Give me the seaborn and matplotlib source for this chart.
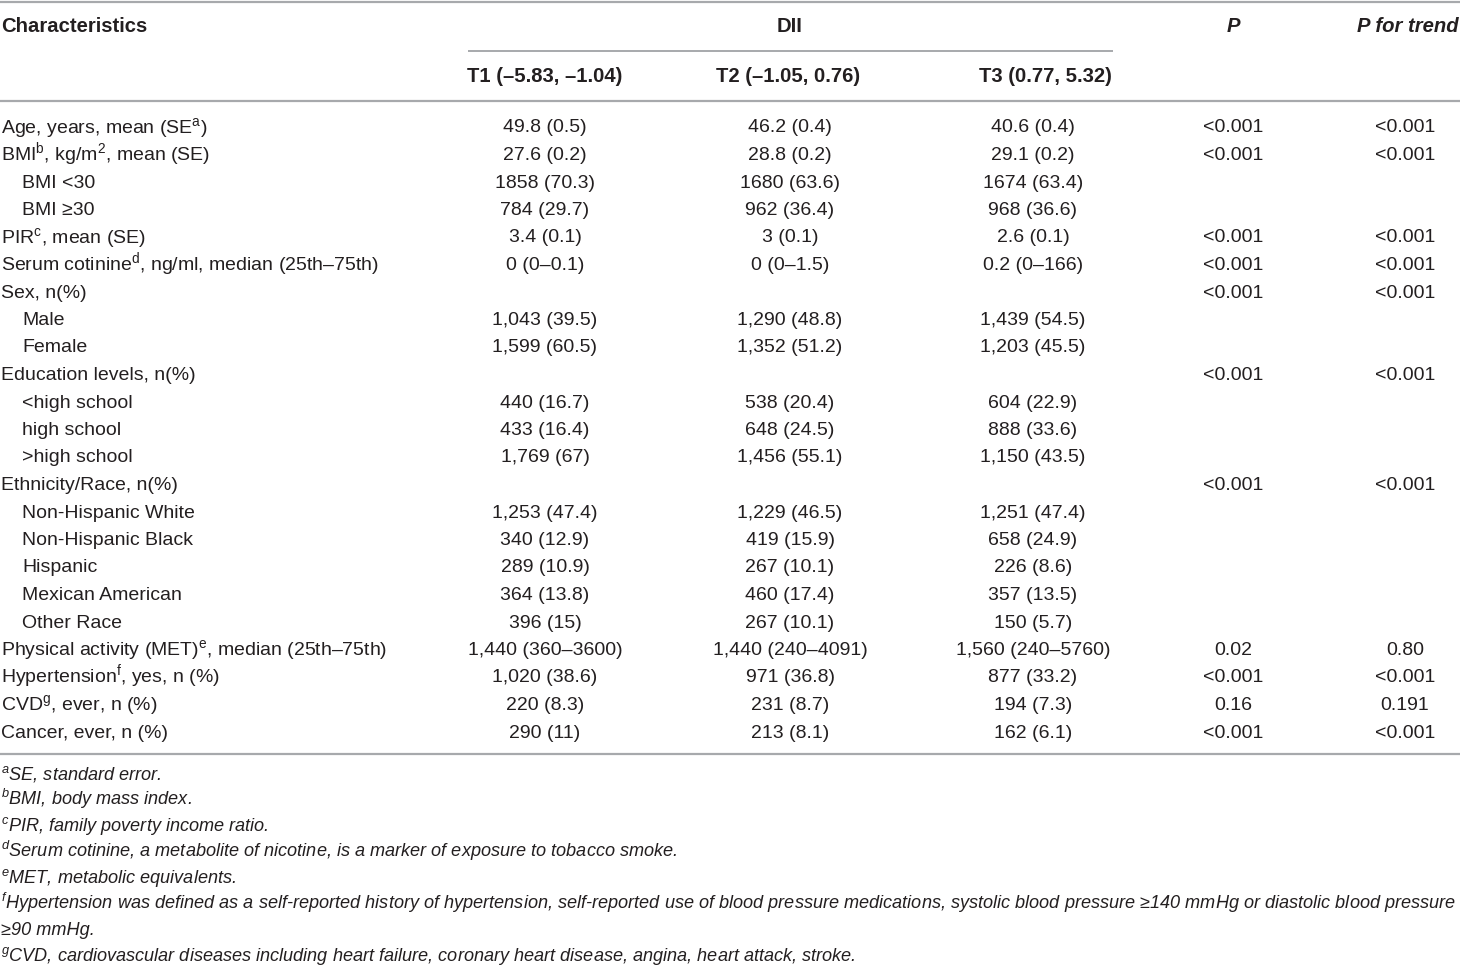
import matplotlib
matplotlib.use("Agg")
import matplotlib.pyplot as plt
import seaborn as sns

sns.set_style("white")
plt.rcParams['font.family'] = ['Liberation Sans', 'DejaVu Sans']
plt.rcParams['mathtext.fontset'] = 'custom'
plt.rcParams['mathtext.rm'] = 'Liberation Sans'
plt.rcParams['mathtext.it'] = 'Liberation Sans:italic'
plt.rcParams['mathtext.bf'] = 'Liberation Sans:bold'

# Table content
col_headers = ["T1 (\u20135.83, \u20131.04)", "T2 (\u20131.05, 0.76)", "T3 (0.77, 5.32)"]

labels = [
    "Age, years, mean (SE$^{\\mathrm{a}}$)",
    "BMI$^{\\mathrm{b}}$, kg/m$^{\\mathrm{2}}$, mean (SE)",
    "BMI <30",
    "BMI \u226530",
    "PIR$^{\\mathrm{c}}$, mean (SE)",
    "Serum cotinine$^{\\mathrm{d}}$, ng/ml, median (25th\u201375th)",
    "Sex, n(%)",
    "Male",
    "Female",
    "Education levels, n(%)",
    "<high school",
    "high school",
    ">high school",
    "Ethnicity/Race, n(%)",
    "Non-Hispanic White",
    "Non-Hispanic Black",
    "Hispanic",
    "Mexican American",
    "Other Race",
    "Physical activity (MET)$^{\\mathrm{e}}$, median (25th\u201375th)",
    "Hypertension$^{\\mathrm{f}}$, yes, n (%)",
    "CVD$^{\\mathrm{g}}$, ever, n (%)",
    "Cancer, ever, n (%)",
]
indented = [0, 0, 1, 1, 0, 0, 0, 1, 1, 0, 1, 1, 1, 0, 1, 1, 1, 1, 1, 0, 0, 0, 0]

t1 = ["49.8 (0.5)", "27.6 (0.2)", "1858 (70.3)", "784 (29.7)", "3.4 (0.1)", "0 (0\u20130.1)",
      "", "1,043 (39.5)", "1,599 (60.5)", "", "440 (16.7)", "433 (16.4)", "1,769 (67)",
      "", "1,253 (47.4)", "340 (12.9)", "289 (10.9)", "364 (13.8)", "396 (15)",
      "1,440 (360\u20133600)", "1,020 (38.6)", "220 (8.3)", "290 (11)"]
t2 = ["46.2 (0.4)", "28.8 (0.2)", "1680 (63.6)", "962 (36.4)", "3 (0.1)", "0 (0\u20131.5)",
      "", "1,290 (48.8)", "1,352 (51.2)", "", "538 (20.4)", "648 (24.5)", "1,456 (55.1)",
      "", "1,229 (46.5)", "419 (15.9)", "267 (10.1)", "460 (17.4)", "267 (10.1)",
      "1,440 (240\u20134091)", "971 (36.8)", "231 (8.7)", "213 (8.1)"]
t3 = ["40.6 (0.4)", "29.1 (0.2)", "1674 (63.4)", "968 (36.6)", "2.6 (0.1)", "0.2 (0\u2013166)",
      "", "1,439 (54.5)", "1,203 (45.5)", "", "604 (22.9)", "888 (33.6)", "1,150 (43.5)",
      "", "1,251 (47.4)", "658 (24.9)", "226 (8.6)", "357 (13.5)", "150 (5.7)",
      "1,560 (240\u20135760)", "877 (33.2)", "194 (7.3)", "162 (6.1)"]
p_val = ["<0.001", "<0.001", "", "", "<0.001", "<0.001", "<0.001", "", "", "<0.001", "", "", "",
         "<0.001", "", "", "", "", "", "0.02", "<0.001", "0.16", "<0.001"]
p_trend = ["<0.001", "<0.001", "", "", "<0.001", "<0.001", "<0.001", "", "", "<0.001", "", "", "",
           "<0.001", "", "", "", "", "", "0.80", "<0.001", "0.191", "<0.001"]

footnotes = [
    "$^{a}$SE, standard error.",
    "$^{b}$BMI, body mass index.",
    "$^{c}$PIR, family poverty income ratio.",
    "$^{d}$Serum cotinine, a metabolite of nicotine, is a marker of exposure to tobacco smoke.",
    "$^{e}$MET, metabolic equivalents.",
    "$^{f}$Hypertension was defined as a self-reported history of hypertension, self-reported use of blood pressure medications, systolic blood pressure \u2265140 mmHg or diastolic blood pressure",
    "\u226590 mmHg.",
    "$^{g}$CVD, cardiovascular diseases including heart failure, coronary heart disease, angina, heart attack, stroke.",
]

W, H = 1460, 967
fig = plt.figure(figsize=(W / 100, H / 100), dpi=100)
ax = fig.add_axes([0, 0, 1, 1])
ax.set_xlim(0, W)
ax.set_ylim(H, 0)
ax.axis("off")

txt = "#231f20"
line_c = "#a7a9ac"
fs = 14
fs_bold = 14.6
fs_note = 13.1
base = 6.5  # baseline offset from row center (px)

# rules
ax.plot([0, W], [1.5, 1.5], color=line_c, lw=1.6, solid_capstyle="butt")
ax.plot([468, 1113], [51, 51], color=line_c, lw=1.4, solid_capstyle="butt")
ax.plot([0, W], [101, 101], color=line_c, lw=1.6, solid_capstyle="butt")
ax.plot([0, W], [754, 754], color=line_c, lw=1.6, solid_capstyle="butt")

# header
ax.text(1, 26 + base, "Characteristics", fontsize=fs_bold, fontweight="bold", color=txt, va="baseline")
ax.text(790, 26 + base, "DII", fontsize=fs_bold, fontweight="bold", color=txt, va="baseline", ha="center")
ax.text(1233, 26 + base, "P", fontsize=fs_bold, fontweight="bold", style="italic", color=txt,
        va="baseline", ha="center")
ax.text(1459, 26 + base, "P for trend", fontsize=fs_bold, fontweight="bold", style="italic", color=txt,
        va="baseline", ha="right")
for x, h in zip([545, 788, 1045], col_headers):
    ax.text(x, 76 + base, h, fontsize=fs_bold, fontweight="bold", color=txt, va="baseline", ha="center")

# body
row0, step = 126, 27.5
for i, lab in enumerate(labels):
    y = row0 + i * step + base
    ax.text(22 if indented[i] else 1, y, lab, fontsize=fs, color=txt, va="baseline")
    for x, col in zip([545, 790, 1033, 1233, 1405], [t1, t2, t3, p_val, p_trend]):
        if col[i]:
            ax.text(x, y, col[i], fontsize=fs, color=txt, va="baseline", ha="center")

# footnotes (baselines)
for i, fn in enumerate(footnotes):
    y = 779 + i * 26
    ax.text(1, y, fn, fontsize=fs_note, style="italic", color=txt, va="baseline")

fig.savefig("out.png", dpi=100)
